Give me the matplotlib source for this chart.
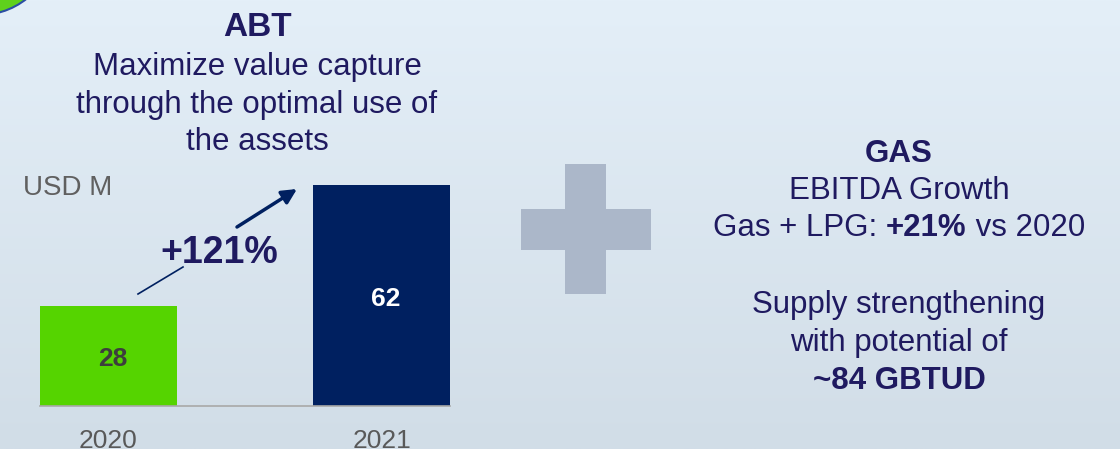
import matplotlib
matplotlib.use("Agg")
import matplotlib.pyplot as plt
import numpy as np
from matplotlib.patches import Circle, Rectangle

plt.rcParams['font.family'] = ['Liberation Sans', 'DejaVu Sans']

years = ['2020', '2021']
ebitda = [28, 62]
bar_colors = ['#55d400', '#002060']
label_colors = ['#3d3d3d', 'white']
growth_label = '+121%'

abt_title = 'ABT'
abt_lines = ['Maximize value capture', 'through the optimal use of', 'the assets']
gas_title = 'GAS'
gas_lines = ['EBITDA Growth']
gas_growth = ['Gas + LPG: ', '+21%', ' vs 2020']
supply_lines = ['Supply strengthening', 'with potential of']
supply_value = '~84 GBTUD'

W, H = 1120, 449
text_col = '#1f1a60'
navy = '#002060'

fig = plt.figure(figsize=(W / 100, H / 100), dpi=100)

# full-size background axes in pixel units (y down)
bg = fig.add_axes([0, 0, 1, 1])
bg.set_xlim(0, W)
bg.set_ylim(H, 0)
bg.axis('off')

top = np.array([228, 239, 248]) / 255
bottom = np.array([209, 221, 231]) / 255
t = np.linspace(0, 1, 200)[:, None, None]
grad = top * (1 - t) + bottom * t
grad = np.repeat(grad, 2, axis=1)
bg.imshow(grad, extent=[0, W, H, 0], aspect='auto', zorder=0)

# corner badge
bg.add_patch(Circle((-20, -60), 75, facecolor='#5fd11c', edgecolor='#2b4ea3',
                    lw=1.5, zorder=1))

# plus sign
px, py, arm, half = 585.5, 229, 65, 20.5
bg.add_patch(Rectangle((px - half, py - arm), 2 * half, 2 * arm, color='#abb7c9', lw=0, zorder=1))
bg.add_patch(Rectangle((px - arm, py - half), 2 * arm, 2 * half, color='#abb7c9', lw=0, zorder=1))

# left block text
lx = 257
bg.text(lx, 36, abt_title, ha='center', va='baseline', fontsize=24,
        fontweight='bold', color=text_col)
for i, line in enumerate(abt_lines):
    bg.text(lx, 75 + 37.5 * i, line, ha='center', va='baseline', fontsize=22.5,
            color=text_col)

bg.text(23, 195, 'USD M', ha='left', va='baseline', fontsize=20, color='#606060')

# right block text
rx = 899
bg.text(rx, 162, gas_title, ha='center', va='baseline', fontsize=22.5,
        fontweight='bold', color=text_col)
for i, line in enumerate(gas_lines):
    bg.text(rx, 199, line, ha='center', va='baseline', fontsize=22.5, color=text_col)

renderer = fig.canvas.get_renderer()


def text_width(s, **kw):
    a = bg.text(0, 0, s + '|', **kw)
    b = bg.text(0, 0, '|', **kw)
    w = a.get_window_extent(renderer).width - b.get_window_extent(renderer).width
    a.remove()
    b.remove()
    return w


weights = ['normal', 'bold', 'normal']
widths = [text_width(s, fontsize=22.5, fontweight=wt) for s, wt in zip(gas_growth, weights)]
x0 = rx - sum(widths) / 2
for s, wt, w in zip(gas_growth, weights, widths):
    bg.text(x0, 236, s, ha='left', va='baseline', fontsize=22.5, fontweight=wt,
            color=text_col)
    x0 += w

for i, line in enumerate(supply_lines):
    bg.text(rx, 313 + 38 * i, line, ha='center', va='baseline', fontsize=22.5,
            color=text_col)
bg.text(rx, 389, supply_value, ha='center', va='baseline', fontsize=22.5,
        fontweight='bold', color=text_col)

# growth arrow and label
bg.plot([138, 183], [294, 267], color=navy, lw=1.2, zorder=3)
bg.annotate('', xy=(297, 189), xytext=(237, 227),
            arrowprops=dict(arrowstyle='-|>', color=navy, lw=2.5,
                            mutation_scale=22, shrinkA=0, shrinkB=0), zorder=3)
bg.text(219.5, 263, growth_label, ha='center', va='baseline', fontsize=27,
        fontweight='bold', color=text_col, zorder=3)

# bar chart
px_per_unit = 3.57
ymax = 70
ax = fig.add_axes([40.25 / W, (H - 406) / H, 409.5 / W, ymax * px_per_unit / H])
ax.patch.set_alpha(0)
xpos = np.arange(len(years))
bars = ax.bar(xpos, ebitda, width=0.5, color=bar_colors, zorder=2)
ax.set_xlim(-0.25, 1.25)
ax.set_ylim(0, ymax)
for side in ['top', 'right', 'left']:
    ax.spines[side].set_visible(False)
ax.spines['bottom'].set_color('#a8a8a8')
ax.spines['bottom'].set_linewidth(1.2)
ax.set_yticks([])
ax.set_xticks(xpos)
ax.set_xticklabels(years, fontsize=19, color='#595959')
ax.tick_params(axis='x', length=0, pad=16.5)

for rect, val, c in zip(bars, ebitda, label_colors):
    ax.annotate(str(val), (rect.get_x() + rect.get_width() / 2, val / 2),
                xytext=(3, -2.5), textcoords='offset points',
                ha='center', va='center', fontsize=19, fontweight='bold', color=c)

fig.savefig('out.png', dpi=100)
